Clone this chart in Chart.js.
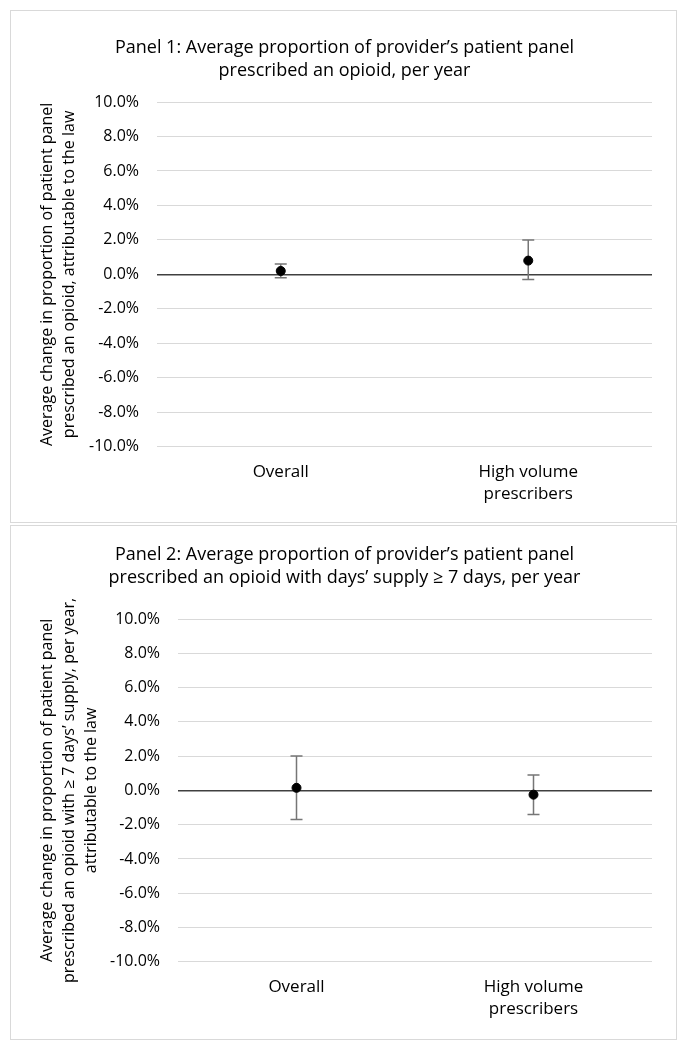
<!DOCTYPE html>
<html>
<head>
<meta charset="utf-8">
<script src="https://cdn.jsdelivr.net/npm/chart.js@4.4.1/dist/chart.umd.min.js"></script>
<style>
  body { margin: 0; background: #fff; font-family: "Open Sans", sans-serif; }
  .panel { position: absolute; left: 10px; width: 667px; border: 1px solid #d9d9d9; box-sizing: border-box; background: #fff; }
  #p1 { top: 10px; height: 513px; }
  #p2 { top: 525px; height: 515px; }
</style>
</head>
<body>
<div class="panel" id="p1"><canvas id="chart1"></canvas></div>
<div class="panel" id="p2"><canvas id="chart2"></canvas></div>
<script>
// Categories
const categories = ['Overall', ['High volume', 'prescribers']];

// Panel 1: estimate and 95% CI (percent)
const panel1Est = [0.2, 0.8];
const panel1Lower = [-0.2, -0.3];
const panel1Upper = [0.6, 2.0];

// Panel 2
const panel2Est = [0.15, -0.25];
const panel2Lower = [-1.7, -1.4];
const panel2Upper = [2.0, 0.9];

const yMin = -10, yMax = 10, yStep = 2;

// draws whiskers from the lower/upper arrays
const errorBars = {
  id: 'errorBars',
  beforeDatasetsDraw(chart, args, opts) {
    const { ctx, scales } = chart;
    const meta = chart.getDatasetMeta(0);
    ctx.save();
    ctx.strokeStyle = '#767676';
    ctx.lineWidth = 1.5;
    meta.data.forEach((pt, i) => {
      const yLo = scales.y.getPixelForValue(opts.lower[i]);
      const yHi = scales.y.getPixelForValue(opts.upper[i]);
      const x = pt.x;
      ctx.beginPath();
      ctx.moveTo(x, yLo); ctx.lineTo(x, yHi);
      ctx.moveTo(x - 6, yLo); ctx.lineTo(x + 6, yLo);
      ctx.moveTo(x - 6, yHi); ctx.lineTo(x + 6, yHi);
      ctx.stroke();
    });
    ctx.restore();
  }
};

function makeChart(id, titleLines, yTitle, est, lower, upper, lay) {
  const ctx = document.getElementById(id).getContext('2d');
  return new Chart(ctx, {
    type: 'line',
    data: {
      labels: categories,
      datasets: [{
        data: est,
        showLine: false,
        pointRadius: 4.5,
        pointHoverRadius: 4.5,
        pointBackgroundColor: '#000',
        pointBorderColor: '#000'
      }]
    },
    options: {
      responsive: true,
      maintainAspectRatio: false,
      animation: false,
      layout: { padding: { left: 26, right: 24, top: lay.top, bottom: lay.bottom } },
      plugins: {
        legend: { display: false },
        tooltip: { enabled: false },
        title: {
          display: true,
          text: titleLines,
          color: '#000',
          font: { family: 'Open Sans', size: 18, weight: 'normal', lineHeight: 1.25 },
          padding: { top: 8, bottom: lay.titleBottom }
        },
        errorBars: { lower: lower, upper: upper }
      },
      scales: {
        x: {
          offset: true,
          grid: { display: false, drawTicks: false },
          border: { display: false },
          ticks: {
            color: '#000',
            font: { family: 'Open Sans', size: 17, lineHeight: 1.3 },
            padding: 14,
            maxRotation: 0
          }
        },
        y: {
          min: yMin,
          max: yMax,
          afterFit: s => { s.width = lay.yWidth; },
          ticks: {
            stepSize: yStep,
            color: '#000',
            font: { family: 'Open Sans', size: 16 },
            padding: 18,
            callback: v => v.toFixed(1) + '%'
          },
          grid: {
            drawTicks: false,
            color: c => c.tick.value === 0 ? '#404040' : '#d9d9d9',
            lineWidth: c => c.tick.value === 0 ? 1.5 : 1
          },
          border: { display: false },
          title: {
            display: true,
            text: yTitle,
            color: '#000',
            font: { family: 'Open Sans', size: 16, lineHeight: 1.35 },
            padding: { top: 0, bottom: 0 }
          }
        }
      }
    },
    plugins: [errorBars]
  });
}

makeChart('chart1',
  ['Panel 1: Average proportion of provider\u2019s patient panel', 'prescribed an opioid, per year'],
  ['Average change in proportion of patient panel', 'prescribed an opioid, attributable to the law'],
  panel1Est, panel1Lower, panel1Upper,
  { top: 18, titleBottom: 20, bottom: 3, yWidth: 120 });

makeChart('chart2',
  ['Panel 2: Average proportion of provider\u2019s patient panel', 'prescribed an opioid with days\u2019 supply \u2265 7 days, per year'],
  ['Average change in proportion of patient panel', 'prescribed an opioid with \u2265 7 days\u2019 supply, per year,', 'attributable to the law'],
  panel2Est, panel2Lower, panel2Upper,
  { top: 10, titleBottom: 30, bottom: 5, yWidth: 141 });
</script>
</body>
</html>
